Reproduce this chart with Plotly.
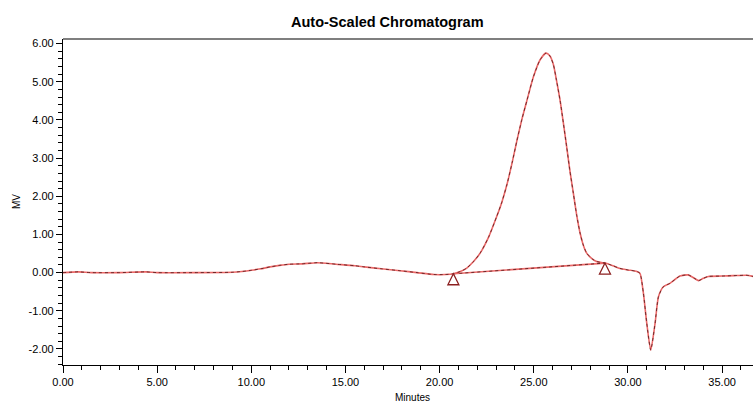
import plotly.graph_objects as go

# Chromatogram data (minutes, mV)
minutes = [0.0, 0.8, 1.5, 3.0, 4.4, 5.0, 7.0, 9.0, 9.5, 10.0, 10.5, 11.0, 11.5, 12.0,
           12.7, 13.5, 14.5, 15.5, 16.0, 16.9, 17.9, 18.8, 19.7, 20.3, 20.73, 21.1,
           21.44, 21.8, 22.15, 22.6, 23.03, 23.3, 23.57, 23.85, 24.1, 24.37, 24.63,
           24.98, 25.33, 25.64, 25.85, 26.04, 26.2, 26.4, 26.57, 26.75, 26.92, 27.1,
           27.28, 27.46, 27.63, 27.81, 28.1, 28.34, 28.78, 29.2, 29.58, 30.0, 30.47,
           30.64, 30.82, 31.0, 31.21, 31.44, 31.62, 31.88, 32.23, 32.76, 33.2, 33.5,
           33.75, 34.0, 34.27, 35.0, 35.6, 36.3, 36.64]
signal_mv = [0.00, 0.02, 0.00, 0.00, 0.02, 0.00, 0.00, 0.01, 0.03, 0.06, 0.10, 0.15, 0.19, 0.22,
             0.23, 0.26, 0.22, 0.18, 0.15, 0.10, 0.05, 0.00, -0.05, -0.05, -0.03, 0.03,
             0.12, 0.29, 0.51, 0.93, 1.47, 1.84, 2.30, 2.88, 3.45, 4.02, 4.50,
             5.13, 5.57, 5.75, 5.68, 5.45, 5.05, 4.50, 3.92, 3.28, 2.66, 2.08,
             1.50, 1.03, 0.72, 0.51, 0.36, 0.29, 0.25, 0.18, 0.11, 0.07, 0.03,
             -0.02, -0.54, -1.33, -2.03, -1.33, -0.63, -0.37, -0.28, -0.09, -0.06, -0.14,
             -0.21, -0.15, -0.10, -0.09, -0.08, -0.07, -0.10]

# Integration peak start / end
peak_times = [20.73, 28.78]
peak_values = [-0.03, 0.25]

x_ticks = [0, 5, 10, 15, 20, 25, 30, 35]
y_ticks = [-2, -1, 0, 1, 2, 3, 4, 5, 6]

font = "Liberation Sans, Arial, sans-serif"
fig = go.Figure()

# baseline of integrated peak
fig.add_trace(go.Scatter(x=peak_times, y=peak_values, mode="lines",
                         line=dict(color="rgb(235,105,105)", width=1.6), hoverinfo="skip"))
fig.add_trace(go.Scatter(x=peak_times, y=peak_values, mode="lines",
                         line=dict(color="rgba(40,0,0,0.7)", width=0.9, dash="dot"), hoverinfo="skip"))
# chromatogram
fig.add_trace(go.Scatter(x=minutes, y=signal_mv, mode="lines",
                         line=dict(color="rgb(235,105,105)", width=1.6, shape="spline", smoothing=0.6)))
fig.add_trace(go.Scatter(x=minutes, y=signal_mv, mode="lines",
                         line=dict(color="rgba(40,0,0,0.7)", width=0.9, dash="dot", shape="spline", smoothing=0.6)))

# peak start/end triangle markers (apex at point, drawn below)
for t, v in zip(peak_times, peak_values):
    fig.add_shape(type="path", xref="x", yref="y", xsizemode="pixel", ysizemode="pixel",
                  xanchor=t, yanchor=v, path="M0,0 L-5.5,-11 L5.5,-11 Z",
                  line=dict(color="#8b1f1f", width=1.3), fillcolor="rgba(0,0,0,0)")

# top frame line
fig.add_shape(type="line", xref="paper", yref="paper", x0=0, x1=1, y0=1, y1=1,
              line=dict(color="black", width=1.2))

fig.update_layout(
    width=753, height=403,
    margin=dict(l=63, r=0, t=39, b=38, autoexpand=False),
    paper_bgcolor="white", plot_bgcolor="white",
    showlegend=False,
    font=dict(family=font, size=11, color="black"),
    annotations=[
        dict(text="<b>Auto-Scaled Chromatogram</b>", xref="paper", yref="paper",
             x=0.471, y=1, yshift=17, xanchor="center", yanchor="middle",
             showarrow=False, font=dict(size=14.5, family=font)),
        dict(text="Minutes", xref="paper", yref="paper", x=0.507, y=0, yshift=-32,
             xanchor="center", yanchor="middle", showarrow=False, font=dict(size=10, family=font)),
        dict(text="MV", xref="paper", yref="paper", x=0, xshift=-47, y=0.5,
             xanchor="center", yanchor="middle", textangle=-90, showarrow=False,
             font=dict(size=10, family=font)),
    ],
)
fig.update_xaxes(range=[0, 36.64], tickvals=x_ticks, ticktext=[f"{v:.2f}" for v in x_ticks],
                 ticks="outside", ticklen=7, tickwidth=1, tickcolor="black", automargin=False,
                 showline=True, linecolor="black", linewidth=1.2,
                 showgrid=False, zeroline=False,
                 minor=dict(dtick=1, ticks="outside", ticklen=4, tickcolor="black", showgrid=False),
                 tickfont=dict(size=11, family=font))
fig.update_yaxes(range=[-2.42, 6.12], tickvals=y_ticks, ticktext=[f"{v:.2f}" for v in y_ticks],
                 ticks="outside", ticklen=6, tickwidth=1, tickcolor="black", automargin=False,
                 showline=True, linecolor="black", linewidth=1.2,
                 showgrid=False, zeroline=False,
                 minor=dict(dtick=0.2, tick0=0, ticks="outside", ticklen=4, tickcolor="black", showgrid=False),
                 tickfont=dict(size=11, family=font))

fig.write_html("out.html", config={"displayModeBar": False},
               post_script="document.body.style.margin='0';document.body.style.overflow='hidden';")
